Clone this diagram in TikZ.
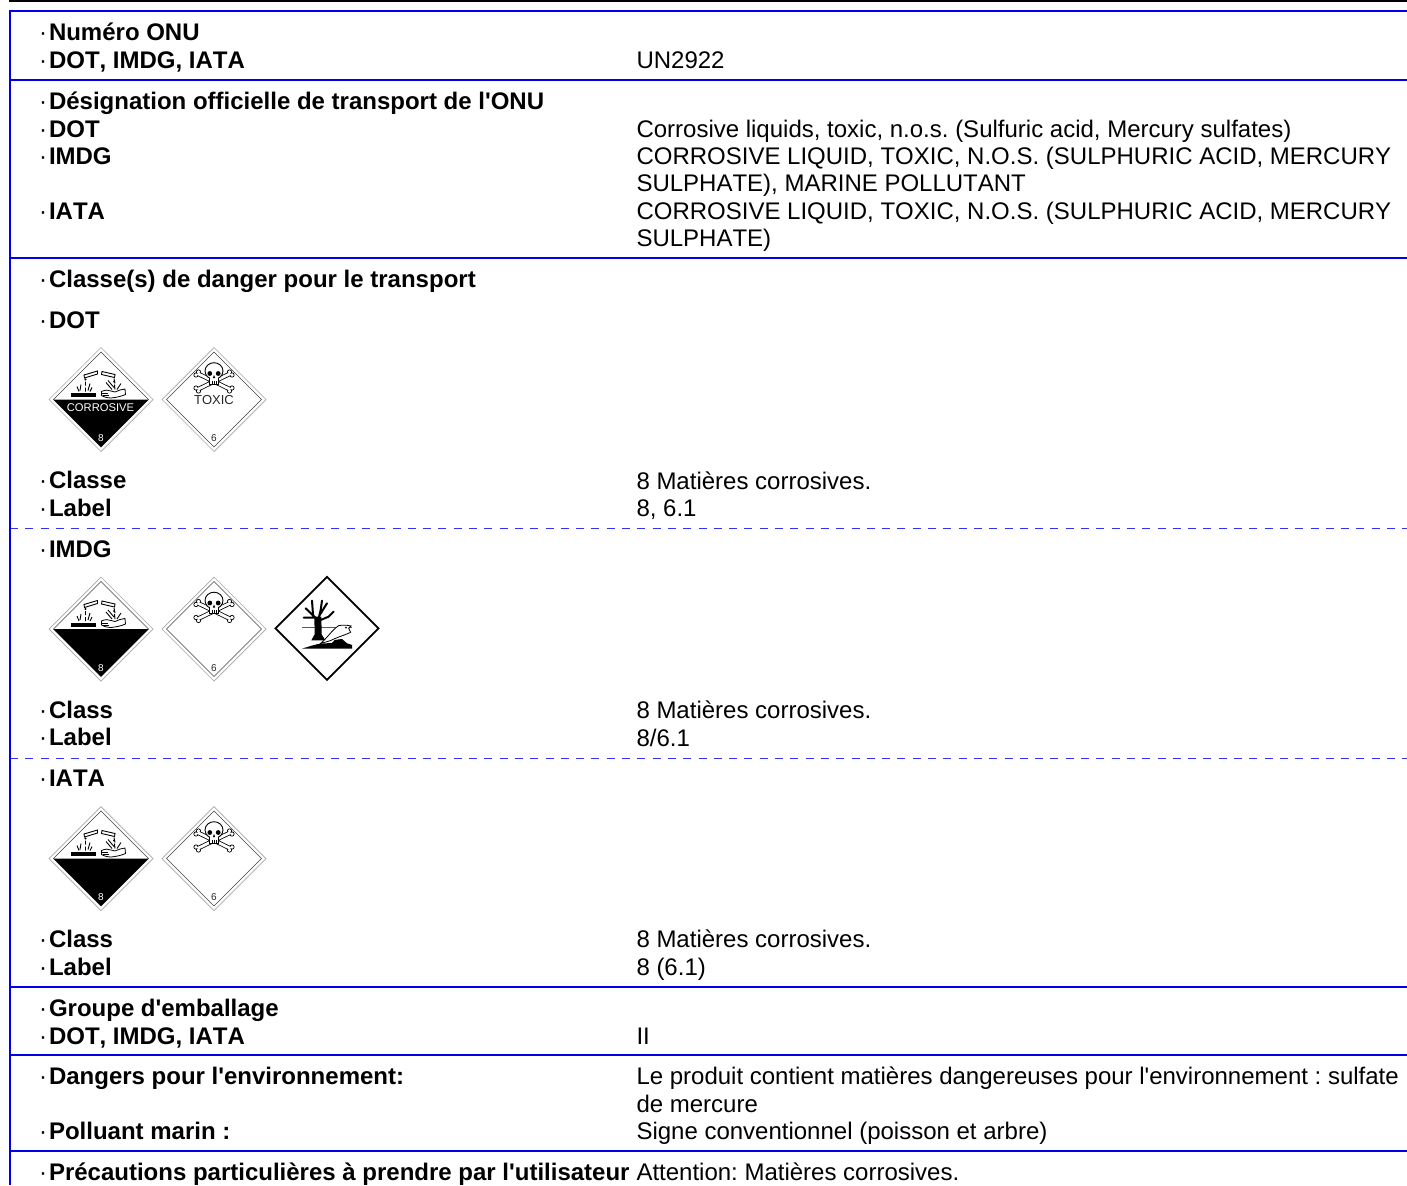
\documentclass[tikz,border=0pt]{standalone}
\usepackage{fontspec}
\setmainfont{Liberation Sans}[Kerning=Off]
\newcommand{\lblfont}{\fontsize{24}{27}\selectfont\frenchspacing}
\newcommand{\sq}{\textquotesingle}
\definecolor{rulblue}{RGB}{0,0,235}
\tikzset{
  x=1pt,y=-1pt,
  lab/.style={anchor=base west,inner sep=0pt,outer sep=0pt,font=\lblfont\bfseries},
  val/.style={anchor=base west,inner sep=0pt,outer sep=0pt,font=\lblfont},
  dotm/.style={anchor=base west,inner sep=0pt,outer sep=0pt,font=\lblfont},
  rul/.style={draw=rulblue,line width=1.3pt},
  dsh/.style={draw=rulblue!80!white,line width=.9pt,dash pattern=on 8pt off 7.3pt},
  pictxt/.style={inner sep=0pt,outer sep=0pt,text=black!85},
  frame/.pic={
    \draw[black!35,line width=.7pt] (0,-52)--(52,0)--(0,52)--(-52,0)--cycle;
    \draw[black!75,line width=.6pt] (0,-47.5)--(47.5,0)--(0,47.5)--(-47.5,0)--cycle;
  },
  corr/.pic={
    \fill[black] (-47.5,0)--(47.5,0)--(0,47.5)--cycle;
    % tubes
    \draw[black,line width=.9pt,fill=white] (-17,-24.5)--(-3.5,-28.5)--(-3.5,-25.5)--(-16.5,-21.5)--cycle;
    \draw[black,line width=.9pt,fill=white] (1,-28)--(14,-25)--(13.5,-22)--(.5,-25)--cycle;
    % bar
    \fill[black] (-30,-6.5) rectangle (-5,-2.5);
    % hand
    \draw[black,line width=.8pt,fill=white] (0.5,-8)
      .. controls (4,-9.5) and (7,-10) .. (10,-8.5)
      -- (14,-7.5) -- (19,-9.5) -- (24,-10.5) -- (24.5,-5)
      .. controls (20,-3) and (15,-2) .. (10,-1.5)
      .. controls (6,-1.5) and (2,-3) .. (0.5,-4) -- cycle;
    \draw[black,line width=.5pt] (0.5,-6)--(7,-6) (1.5,-4)--(8,-4);
    % splashes
    \draw[black,line width=.9pt] (-20,-15)--(-21,-9) (-15.5,-18)--(-15.5,-14) (-15.5,-12)--(-15.5,-8)
      (-11,-16)--(-13,-9) (-24,-13)--(-22,-8) (-9,-12)--(-11,-8);
    \draw[black,line width=.9pt] (5,-17)--(11,-10) (7,-19)--(13,-12) (13,-21)--(14,-16) (13.5,-15)--(14,-10) (20,-16)--(16,-10);
    \fill[black] (-15.5,-20) circle (1.2) (13,-18) circle (1);
  },
  skull/.pic={
    \draw[black,line width=.8pt,fill=white]
      (-15.5,-27.5) circle (2.1) (-18,-24.5) circle (2.1)
      (15.5,-27.5) circle (2.1) (18,-24.5) circle (2.1)
      (-15.5,-8.5) circle (2.1) (-18,-11.5) circle (2.1)
      (15.5,-8.5) circle (2.1) (18,-11.5) circle (2.1);
    \draw[black,line width=4.4pt] (-16.5,-26)--(16.5,-10) (16.5,-26)--(-16.5,-10);
    \fill[white] (-15.5,-27.5) circle (1.7) (-18,-24.5) circle (1.7)
      (15.5,-27.5) circle (1.7) (18,-24.5) circle (1.7)
      (-15.5,-8.5) circle (1.7) (-18,-11.5) circle (1.7)
      (15.5,-8.5) circle (1.7) (18,-11.5) circle (1.7);
    \draw[white,line width=2.8pt] (-16.5,-26)--(16.5,-10) (16.5,-26)--(-16.5,-10);
    \draw[black,line width=.9pt,fill=white] (-4.5,-23) -- (-4.5,-15.5) -- (4.5,-15.5) -- (4.5,-23) -- cycle;
    \draw[black,line width=.9pt,fill=white] (0,-28.5) ellipse (9 and 8.3);
    \fill[white] (-4,-23) rectangle (4,-19);
    \fill[black] (-4.2,-26) circle (2.4) (4.2,-26) circle (2.4);
    \fill[black] (0,-24.5)--(1.2,-21.5)--(-1.2,-21.5)--cycle;
    \draw[black,line width=.7pt] (-2,-19)--(-2,-15.5) (0,-19)--(0,-15.5) (2,-19)--(2,-15.5);
  },
  env/.pic={
    \draw[black,line width=1.8pt,fill=white] (0,-51.5)--(51.5,0)--(0,51.5)--(-51.5,0)--cycle;
    \begin{scope}[scale=1/3,shift={(-155,-160)}]
    \draw[black!65,line width=.8pt] (80,158)--(230,158);
    % tree
    \fill[black] (108,196)--(118,178)--(117,125)--(138,125)--(139,178)--(150,196)--cycle;
    \draw[black,line width=2pt,line cap=round] (122,130)--(91,100) (113,118)--(110,77)
      (130,130)--(136,105)--(140,77) (132,122)--(155,85) (136,135)--(160,125)--(175,110) (118,128)--(85,128);
    % ground
    \fill[black] (80,221) .. controls (100,215) and (120,208) .. (135,206)
      -- (170,204) -- (178,195) -- (200,192) -- (215,205) -- (230,210) -- (230,221) -- cycle;
    % fish
    \draw[black,line width=.8pt,fill=white] (135,206)
      .. controls (155,190) and (170,165) .. (190,152)
      .. controls (200,150) and (215,150) .. (227,153)
      -- (220,160) -- (226,172)
      .. controls (215,178) and (190,185) .. (165,197)
      -- cycle;
    \fill[black] (212,158) circle (3);
    \end{scope}
  }
}
\begin{document}
\begin{tikzpicture}
\useasboundingbox (0,0) rectangle (1407,1185);
\fill[black] (9,0) rectangle (1407,2.2);
% rules
\coordinate (tl) at (10,11); \coordinate (bl) at (10,1185);
\coordinate (r1) at (1407,11); \coordinate (r2) at (1407,80); \coordinate (r3) at (1407,258);
\coordinate (r4) at (1407,528); \coordinate (r5) at (1407,758); \coordinate (r6) at (1407,987);
\coordinate (r7) at (1407,1055); \coordinate (r8) at (1407,1151);
\draw[rul] (tl)--(r1);
\draw[rul] (10,80)--(r2);
\draw[rul] (10,258)--(r3);
\draw[dsh] (10,528)--(r4);
\draw[dsh] (10,758)--(r5);
\draw[rul] (10,987)--(r6);
\draw[rul] (10,1055)--(r7);
\draw[rul] (10,1151)--(r8);
\draw[draw=rulblue,line width=2pt] (bl)--(10,10.4);
% labels
\foreach \nm/\y/\t in {
 a/41/Numéro ONU, b/69/{DOT, IMDG, IATA}, c/110/Désignation officielle de transport de l\sq ONU,
 d/138/DOT, e/165/IMDG, f/219.5/IATA, g/287.5/Classe(s) de danger pour le transport, h/328.5/DOT,
 i/488.5/Classe, j/516.5/Label, k/557.5/IMDG, l/718/Class, m/745.5/Label, n/786.5/IATA, o/947/Class, p/975.5/Label,
 q/1016.5/Groupe d\sq emballage, r/1044.5/{DOT, IMDG, IATA}, s/1084.5/Dangers pour l\sq environnement:,
 t/1139.5/Polluant marin :, u/1180.5/Précautions particulières à prendre par l\sq utilisateur}{
 \node[dotm] (dot\nm) at (39,\y) {·};
 \node[lab] (lab\nm) at (49,\y) {\t};
}
% values
\foreach \nm/\y/\t in {
 a/69/UN2922, b/138/{Corrosive liquids, toxic, n.o.s. (Sulfuric acid, Mercury sulfates)},
 c/165/{CORROSIVE LIQUID, TOXIC, N.O.S. (SULPHURIC ACID, MERCURY}, d/192/{SULPHATE), MARINE POLLUTANT},
 e/219.5/{CORROSIVE LIQUID, TOXIC, N.O.S. (SULPHURIC ACID, MERCURY}, f/246.5/{SULPHATE)},
 g/489/8 Matières corrosives., h/516.5/{8, 6.1}, i/718/8 Matières corrosives., j/746/{8/6.1},
 k/947/8 Matières corrosives., l/975.5/8 (6.1), m/1044.5/II,
 n/1084.5/Le produit contient matières dangereuses pour l\sq environnement : sulfate, o/1112.5/de mercure,
 p/1139.5/Signe conventionnel (poisson et arbre), q/1180.5/{Attention: Matières corrosives.}}{
 \node[val] (val\nm) at (636.5,\y) {\t};
}
% placards
\foreach \cx/\cy in {101/399.5,101/629,101/858.5}{
 \pic at (\cx,\cy) {frame}; \pic at (\cx,\cy) {corr};
 \node[pictxt,text=white,font=\fontsize{10}{10}\selectfont] (eight\cy) at (\cx,\cy+39) {8};
}
\foreach \cx/\cy in {214/399.5,214/629,214/858.5}{
 \pic at (\cx,\cy) {frame}; \pic at (\cx,\cy) {skull};
 \node[pictxt,font=\fontsize{10}{10}\selectfont] (six\cy) at (\cx,\cy+39) {6};
}
\node[pictxt,text=white,font=\fontsize{11.2}{11}\selectfont] (corrtxt) at (100.5,407.5) {CORROSIVE};
\node[pictxt,font=\fontsize{13}{13}\selectfont] (toxtxt) at (214,400) {TOXIC};
\pic at (327,628.3) {env};
\end{tikzpicture}
\end{document}
